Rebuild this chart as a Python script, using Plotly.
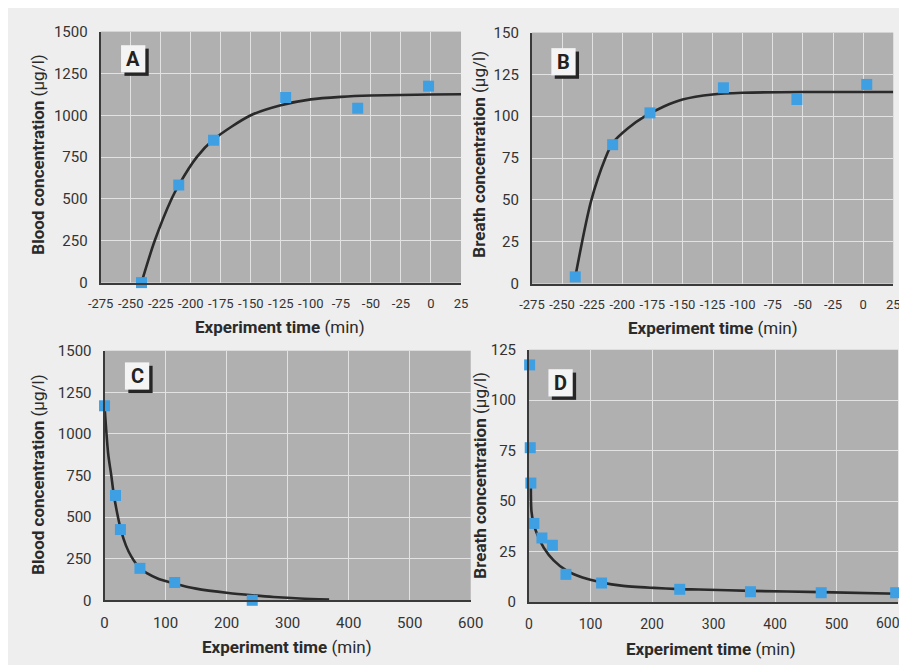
import plotly.graph_objects as go

W, H = 907, 665

# ---------------- data ----------------
# Panel A: blood concentration during exposure
a_time = [-241, -210, -181, -121, -61, -2]
a_conc = [0, 583, 851, 1106, 1042, 1174]
a_fit_time = [-241, -230, -216, -210, -195, -181, -150, -125, -100, -75, -50, 0, 25]
a_fit_conc = [0, 250, 500, 583, 750, 855, 1000, 1060, 1095, 1110, 1118, 1124, 1126]

# Panel B: breath concentration during exposure
b_time = [-239, -208, -177, -116, -55, 3]
b_conc = [4, 83, 102, 117, 110, 119]
b_fit_time = [-239, -226, -214, -208, -195, -181, -165, -150, -125, -100, -50, 25]
b_fit_conc = [4, 49, 75, 84, 93, 100, 106, 110, 113, 114, 114.5, 114.5]

# Panel C: blood concentration after exposure
c_time = [0, 18, 26, 58, 115, 242]
c_conc = [1169, 630, 425, 192, 107, 0]
c_fit_time = [0, 6, 11, 15, 22, 27, 35, 44, 58, 86, 115, 150, 203, 243, 277, 320, 368]
c_fit_conc = [1169, 880, 752, 640, 500, 420, 330, 262, 192, 132, 100, 70, 44, 30, 20, 11, 4]

# Panel D: breath concentration after exposure
d_time = [1, 2, 3, 8, 21, 38, 60, 118, 245, 360, 475, 596]
d_conc = [117.5, 76.5, 59, 39, 31.8, 28.2, 13.8, 9.5, 6.4, 5.2, 4.7, 4.7]
d_fit_time = [3, 4, 8, 16, 24, 40, 60, 87, 118, 150, 203, 245, 276, 360, 475, 600]
d_fit_conc = [57, 45, 38.2, 31.8, 27, 20.7, 15.9, 12.2, 9.8, 8.2, 7.1, 6.5, 6.3, 5.6, 5.0, 4.2]

# ticks
exp_xticks = [-275, -250, -225, -200, -175, -150, -125, -100, -75, -50, -25, 0, 25]
exp_xlabels = [str(v) for v in exp_xticks]
post_xticks = [0, 100, 200, 300, 400, 500, 600]
post_xlabels = ["0", "100", "200", "300", "400", "500", "600"]
# the last label of panel D sits on the page edge; it is drawn right-aligned separately
post_xlabels_d = ["0", "100", "200", "300", "400", "500", ""]
d_edge_tick = 600
blood_yticks = [0, 250, 500, 750, 1000, 1250, 1500]
breath_b_yticks = [0, 25, 50, 75, 100, 125, 150]
breath_d_yticks = [0, 25, 50, 75, 100, 125]

panel_letters = ["A", "B", "C", "D"]
y_titles = ["<b>Blood concentration</b> (µg/l)", "<b>Breath concentration</b> (µg/l)",
            "<b>Blood concentration</b> (µg/l)", "<b>Breath concentration</b> (µg/l)"]
x_title = "<b>Experiment time</b> (min)"

# ---------------- styling ----------------
FONT = "Roboto, Liberation Sans, Arial, sans-serif"
PAPER = "#eeeeee"
PLOT = "#b0b0b0"
GRID = "#e2e2e2"
AXIS = "#3a3a3a"
MARK = "#3f9fe3"
CURVE = "#2a2a2a"
TXT = "#2a2a2a"

# pixel boxes of the four plot areas: (x0, x1, y0_top, y1_bottom)
boxes = [(82, 453, 15, 273), (526, 898, 16, 274), (86, 463, 343, 599.5), (523, 903, 342, 601.5)]
xtick_sizes = [13, 13, 15, 14]


def dom(b):
    x0, x1, yt, yb = b
    return [x0 / W, x1 / W], [1 - yb / H, 1 - yt / H]


fig = go.Figure()

panels = [
    (a_time, a_conc, a_fit_time, a_fit_conc, [-275, 25], exp_xticks, exp_xlabels, [0, 1500], blood_yticks),
    (b_time, b_conc, b_fit_time, b_fit_conc, [-275, 25], exp_xticks, exp_xlabels, [0, 150], breath_b_yticks),
    (c_time, c_conc, c_fit_time, c_fit_conc, [0, 600], post_xticks, post_xlabels, [0, 1500], blood_yticks),
    (d_time, d_conc, d_fit_time, d_fit_conc, [0, 600], post_xticks, post_xlabels_d, [0, 125], breath_d_yticks),
]

layout = dict(
    width=W, height=H, autosize=False,
    margin=dict(l=0, r=0, t=0, b=0),
    paper_bgcolor=PAPER, plot_bgcolor=PLOT,
    showlegend=False,
    font=dict(family=FONT, color=TXT),
)
shapes = []
annotations = []

# box letter offsets (px from plot top-left)
letter_off = [(21, 14), (20, 16), (21, 12), (20, 20)]

for i, (tx, ty, fx, fy, xr, xt, xl, yr, yt) in enumerate(panels):
    n = "" if i == 0 else str(i + 1)
    xa, ya = "x" + n, "y" + n
    fig.add_trace(go.Scatter(x=fx, y=fy, mode="lines", xaxis=xa, yaxis=ya,
                             line=dict(color=CURVE, width=2.6, shape="spline", smoothing=0.8),
                             hoverinfo="skip"))
    fig.add_trace(go.Scatter(x=tx, y=ty, mode="markers", xaxis=xa, yaxis=ya, cliponaxis=False,
                             marker=dict(symbol="square", size=11, color=MARK, line=dict(width=0))))
    xd, yd = dom(boxes[i])
    common = dict(showgrid=True, gridcolor=GRID, gridwidth=1, zeroline=False,
                  showline=True, linecolor=AXIS, linewidth=2, ticks="",
                  ticklabelstandoff=8)
    layout["xaxis" + n] = dict(common, domain=xd, range=xr, anchor=ya, tickangle=0,
                               tickfont=dict(family=FONT, size=xtick_sizes[i], color="#333333"),
                               tickmode="array", tickvals=xt, ticktext=xl)
    layout["yaxis" + n] = dict(common, domain=yd, range=yr, anchor=xa,
                               tickfont=dict(family=FONT, size=15, color="#333333"),
                               tickmode="array", tickvals=yt, ticktext=[str(v) for v in yt])
    # panel letter box
    x0, x1, yt_, yb_ = boxes[i]
    pw, ph = x1 - x0, yb_ - yt_
    dx, dy = letter_off[i]
    bw, bh, sh = 25, 28, 3.5
    fx0, fx1 = dx / pw, (dx + bw) / pw
    fy1, fy0 = 1 - dy / ph, 1 - (dy + bh) / ph
    shapes.append(dict(type="rect", xref=xa + " domain", yref=ya + " domain",
                       x0=fx0 + sh / pw, x1=fx1 + sh / pw, y0=fy0 - sh / ph, y1=fy1 - sh / ph,
                       fillcolor="#262626", line=dict(width=0), layer="above"))
    shapes.append(dict(type="rect", xref=xa + " domain", yref=ya + " domain",
                       x0=fx0, x1=fx1, y0=fy0, y1=fy1,
                       fillcolor="#f4f4f4", line=dict(width=0), layer="above"))
    annotations.append(dict(text="<b>%s</b>" % panel_letters[i], xref=xa + " domain", yref=ya + " domain",
                            x=(fx0 + fx1) / 2, y=(fy0 + fy1) / 2, showarrow=False,
                            xanchor="center", yanchor="middle",
                            font=dict(family=FONT, size=20, color="#222222")))

# right-aligned edge tick label of panel D
annotations.append(dict(text=str(d_edge_tick), xref="x4", yref="y4 domain", x=d_edge_tick, y=0,
                        yshift=-21, xshift=4, showarrow=False, xanchor="right", yanchor="middle",
                        font=dict(family=FONT, size=14, color="#333333")))

# axis titles (pixel centres)
ytitle_pos = [(18, 141), (472, 141), (18, 470), (473, 471)]
xtitle_pos = [(267, 319), (712, 320), (274, 648), (710, 650)]
for i in range(4):
    px, py = ytitle_pos[i]
    annotations.append(dict(text=y_titles[i], xref="paper", yref="paper",
                            x=px / W, y=1 - py / H, showarrow=False, textangle=-90,
                            xanchor="center", yanchor="middle",
                            font=dict(family=FONT, size=17, color=TXT)))
    px, py = xtitle_pos[i]
    annotations.append(dict(text=x_title, xref="paper", yref="paper",
                            x=px / W, y=1 - py / H, showarrow=False,
                            xanchor="center", yanchor="middle",
                            font=dict(family=FONT, size=17, color=TXT)))

layout["shapes"] = shapes
layout["annotations"] = annotations
fig.update_layout(**layout)
fig.write_html("out.html")
